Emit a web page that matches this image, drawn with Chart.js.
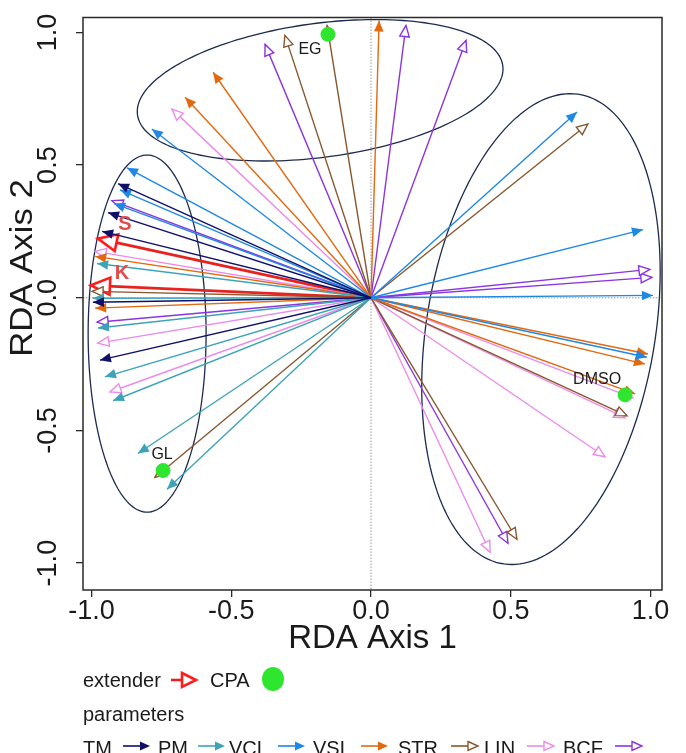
<!DOCTYPE html>
<html>
<head>
<meta charset="utf-8">
<script src="https://cdn.jsdelivr.net/npm/chart.js@4.4.1/dist/chart.umd.min.js"></script>
<style>
  html, body { margin: 0; padding: 0; background: #fff; }
  #wrap { position: relative; width: 686px; height: 753px; overflow: hidden; font-family: "Liberation Sans", Arial, Helvetica, sans-serif; }
  #chart { position: absolute; left: 0; top: 0; }
  .lg { position: absolute; font-size: 20px; line-height: 20px; color: #1a1a1a; white-space: nowrap; }
  .sym { position: absolute; }
</style>
</head>
<body>
<div id="wrap">
  <canvas id="chart" width="686" height="753"></canvas>
  <div id="legend"></div>
</div>
<script>
// --- Data (RDA scores) ---
const tickValues = [-1.0, -0.5, 0.0, 0.5, 1.0];

const paramNames = ['TM', 'PM', 'VCL', 'VSL', 'STR', 'LIN', 'BCF'];
const paramColors = ['#10106a', '#3da4b8', '#1f88e5', '#e2690f', '#87582f', '#ec8cea', '#8b35e0'];
const paramOpen = [false, false, false, false, true, true, true];

const tmTips = [[-0.905, 0.430], [-0.941, 0.321], [-0.962, 0.250], [-0.995, -0.017], [-0.970, -0.235]];
const pmTips = [[-0.980, 0.129], [-0.995, -0.002], [-0.977, -0.114], [-0.952, -0.298], [-0.923, -0.388], [-0.834, -0.587], [-0.730, -0.722]];
const vclTips = [[-0.873, 0.490], [-0.898, 0.407], [-0.919, 0.355], [-0.784, 0.636], [0.737, 0.700], [0.973, 0.257], [1.009, 0.009], [0.987, -0.224]];
const vslTips = [[-0.987, 0.156], [-0.987, -0.039], [-0.665, 0.756], [-0.565, 0.850], [0.029, 1.045], [0.991, -0.212], [0.980, -0.250], [0.945, -0.362]];
const strTips = [[-0.998, 0.024], [-0.773, -0.677], [-0.308, 0.989], [-0.157, 1.026], [0.776, 0.655], [0.916, -0.445], [0.522, -0.910]];
const linTips = [[-0.987, 0.175], [-0.977, -0.171], [-0.934, -0.355], [-0.712, 0.711], [0.937, -0.377], [0.909, -0.452], [0.837, -0.599], [0.426, -0.959]];
const bcfTips = [[-0.927, 0.366], [-0.980, -0.092], [-0.379, 0.955], [0.125, 1.026], [0.340, 0.970], [0.998, 0.107], [1.005, 0.077], [0.490, -0.925]];
const paramTips = [tmTips, pmTips, vclTips, vslTips, strTips, linTips, bcfTips];

const extenderNames = ['S', 'K'];
const extenderTips = [[-0.977, 0.223], [-1.002, 0.047]];

const cpaNames = ['EG', 'GL', 'DMSO'];
const cpaPoints = [[-0.154, 0.993], [-0.744, -0.651], [0.909, -0.366]];

// group ellipses: centre, semi-axes, rotation (deg), in axis units
const ellipseCenters = [[-0.182, 0.782], [-0.801, -0.135], [0.608, -0.118]];
const ellipseAxes = [[0.66, 0.252], [0.211, 0.673], [0.895, 0.41]];
const ellipseAngles = [8.2, 0, 81.5];

const FONT = "'Liberation Sans', Arial, Helvetica, sans-serif";
Chart.defaults.font.family = FONT;
Chart.defaults.color = '#1a1a1a';

// --- Datasets ---
const datasets = [];
paramTips.forEach((tips, i) => {
    tips.forEach(t => {
        datasets.push({
            label: paramNames[i],
            data: [{ x: 0, y: 0 }, { x: t[0], y: t[1] }],
            showLine: true,
            borderColor: paramColors[i],
            borderWidth: 1.4,
            pointRadius: 0,
            head: paramOpen[i] ? 'open' : 'filled',
            headLen: 11,
            headHalf: 4.8,
            headColor: paramColors[i],
            order: 1
        });
    });
});
extenderTips.forEach((t, i) => {
    datasets.push({
        label: extenderNames[i],
        data: [{ x: 0, y: 0 }, { x: t[0], y: t[1] }],
        showLine: true,
        borderColor: '#e8221e',
        borderWidth: 2.8,
        pointRadius: 0,
        head: 'open',
        headLen: 19,
        headHalf: 8.5,
        headColor: '#ff1c1c',
        extender: true,
        order: 1
    });
});
datasets.push({
    label: 'CPA',
    data: cpaPoints.map(p => ({ x: p[0], y: p[1] })),
    backgroundColor: '#2fe62f',
    borderColor: '#2fe62f',
    pointRadius: 7,
    order: 0,
    cpa: true
});

function drawHead(ctx, from, to, len, half, color, open) {
    const ang = Math.atan2(to.y - from.y, to.x - from.x);
    const bx = to.x - len * Math.cos(ang);
    const by = to.y - len * Math.sin(ang);
    const nx = -Math.sin(ang) * half;
    const ny = Math.cos(ang) * half;
    ctx.beginPath();
    ctx.moveTo(to.x, to.y);
    ctx.lineTo(bx + nx, by + ny);
    ctx.lineTo(bx - nx, by - ny);
    ctx.closePath();
    if (open) {
        ctx.fillStyle = '#fff';
        ctx.fill();
        ctx.lineWidth = half > 6 ? 2.6 : 1.4;
        ctx.strokeStyle = color;
        ctx.stroke();
    } else {
        ctx.fillStyle = color;
        ctx.fill();
    }
}

const rdaPlugin = {
    id: 'rda',
    beforeDatasetsDraw(chart) {
        const { ctx, chartArea: a, scales: { x, y } } = chart;
        ctx.save();
        // dotted zero lines
        ctx.strokeStyle = '#9a9a9a';
        ctx.lineWidth = 1;
        ctx.setLineDash([1.5, 1.5]);
        ctx.beginPath();
        ctx.moveTo(x.getPixelForValue(0), a.top);
        ctx.lineTo(x.getPixelForValue(0), a.bottom);
        ctx.moveTo(a.left, y.getPixelForValue(0));
        ctx.lineTo(a.right, y.getPixelForValue(0));
        ctx.stroke();
        ctx.setLineDash([]);
        // group ellipses
        ctx.strokeStyle = '#1d2b4f';
        ctx.lineWidth = 1.3;
        ellipseCenters.forEach((c, i) => {
            const r = ellipseAngles[i] * Math.PI / 180;
            const ax = ellipseAxes[i];
            ctx.beginPath();
            for (let k = 0; k <= 180; k++) {
                const t = k / 180 * 2 * Math.PI;
                const dx = ax[0] * Math.cos(t);
                const dy = ax[1] * Math.sin(t);
                const px = x.getPixelForValue(c[0] + dx * Math.cos(r) - dy * Math.sin(r));
                const py = y.getPixelForValue(c[1] + dx * Math.sin(r) + dy * Math.cos(r));
                if (k === 0) ctx.moveTo(px, py); else ctx.lineTo(px, py);
            }
            ctx.stroke();
        });
        ctx.restore();
    },
    afterDatasetDraw(chart, args) {
        const ds = chart.data.datasets[args.index];
        if (!ds.head) return;
        const pts = args.meta.data;
        const ctx = chart.ctx;
        ctx.save();
        drawHead(ctx, pts[0], pts[1], ds.headLen, ds.headHalf, ds.headColor, ds.head === 'open');
        ctx.restore();
    },
    afterDatasetsDraw(chart) {
        const { ctx, chartArea: a } = chart;
        ctx.save();
        // CPA labels
        ctx.fillStyle = '#1a1a1a';
        ctx.font = '16px ' + FONT;
        ctx.textAlign = 'center';
        ctx.textBaseline = 'middle';
        const cpaMeta = chart.getDatasetMeta(chart.data.datasets.length - 1);
        const cpaOffsets = [[-18, 15], [-1, -16], [-28, -15]];
        cpaMeta.data.forEach((p, i) => {
            ctx.fillText(cpaNames[i], p.x + cpaOffsets[i][0], p.y + cpaOffsets[i][1]);
        });
        // extender labels
        ctx.fillStyle = '#e04c4c';
        ctx.font = 'bold 20px ' + FONT;
        const extOffsets = [[27, -14], [31, -12]];
        let n = 0;
        chart.data.datasets.forEach((ds, i) => {
            if (!ds.extender) return;
            const tip = chart.getDatasetMeta(i).data[1];
            ctx.fillText(ds.label, tip.x + extOffsets[n][0], tip.y + extOffsets[n][1]);
            n++;
        });
        // plot box
        ctx.strokeStyle = '#2a2a2a';
        ctx.lineWidth = 1.5;
        ctx.strokeRect(a.left, a.top, a.right - a.left, a.bottom - a.top);
        // y axis title (sits a little above the plot centre in the original)
        ctx.fillStyle = '#1a1a1a';
        ctx.font = '31px ' + FONT;
        ctx.translate(23, 268);
        ctx.rotate(-Math.PI / 2);
        ctx.scale(1.12, 1);
        ctx.fillText('RDA Axis 2', 0, 0);
        ctx.restore();
    }
};

const axisFont = { size: 27, family: FONT, lineHeight: 1 };

new Chart(document.getElementById('chart'), {
    type: 'scatter',
    data: { datasets: datasets },
    options: {
        responsive: false,
        animation: false,
        events: [],
        layout: { padding: { left: 0, right: 24, top: 15, bottom: 93 } },
        plugins: { legend: { display: false }, tooltip: { enabled: false } },
        scales: {
            x: {
                type: 'linear',
                min: -1.0304,
                max: 1.0411,
                afterBuildTicks: s => { s.ticks = tickValues.map(v => ({ value: v })); },
                afterFit: s => { s.height = 70; },
                ticks: { font: axisFont, padding: 1, autoSkip: false, maxRotation: 0, color: '#1a1a1a', callback: v => v.toFixed(1) },
                grid: { drawOnChartArea: false, drawTicks: true, tickLength: 7, color: '#2a2a2a', lineWidth: 1.3 },
                border: { display: false },
                title: { display: true, text: 'RDA Axis 1', font: { size: 33, family: FONT, lineHeight: 1.2 }, padding: { top: 0, bottom: 1 }, color: '#1a1a1a' }
            },
            y: {
                type: 'linear',
                min: -1.1013,
                max: 1.0563,
                afterBuildTicks: s => { s.ticks = tickValues.map(v => ({ value: v })); },
                afterFit: s => { s.width = 83; },
                ticks: { font: axisFont, padding: 4, autoSkip: false, minRotation: 90, maxRotation: 90, crossAlign: 'center', color: '#1a1a1a', callback: v => v.toFixed(1) },
                grid: { drawOnChartArea: false, drawTicks: true, tickLength: 7, color: '#2a2a2a', lineWidth: 1.3 },
                border: { display: false }
            }
        }
    },
    plugins: [rdaPlugin]
});

// --- Legend (below the plot) ---
const legend = document.getElementById('legend');

function addText(text, left, top) {
    const el = document.createElement('div');
    el.className = 'lg';
    el.textContent = text;
    el.style.left = left + 'px';
    el.style.top = top + 'px';
    legend.appendChild(el);
}

function addSvg(inner, left, top, w, h) {
    const ns = 'http://www.w3.org/2000/svg';
    const svg = document.createElementNS(ns, 'svg');
    svg.setAttribute('class', 'sym');
    svg.setAttribute('width', w);
    svg.setAttribute('height', h);
    svg.style.left = left + 'px';
    svg.style.top = top + 'px';
    svg.innerHTML = inner;
    legend.appendChild(svg);
}

function arrowSymbol(color, open) {
    const head = open
        ? `<polygon points="17,3.5 27,8 17,12.5" fill="#fff" stroke="${color}" stroke-width="1.4"/>`
        : `<polygon points="17,3.5 27,8 17,12.5" fill="${color}"/>`;
    return `<line x1="0" y1="8" x2="${open ? 17 : 20}" y2="8" stroke="${color}" stroke-width="1.6"/>` + head;
}

addText('extender', 83, 670);
addSvg('<line x1="0" y1="11" x2="11" y2="11" stroke="#e8221e" stroke-width="2.6"/>' +
       '<polygon points="11,4 25,11 11,18" fill="#fff" stroke="#ff1c1c" stroke-width="2.6"/>', 171, 669, 30, 22);
addText('CPA', 210, 670);
addSvg('<ellipse cx="12" cy="12" rx="11" ry="12" fill="#2fe62f"/>', 261, 667, 24, 25);

addText('parameters', 83, 704);

const textLefts = [83, 158, 229, 313, 398, 484, 563];
const arrowLefts = [123, 198, 278, 361, 451, 527, 615];
paramNames.forEach((name, i) => {
    addText(name, textLefts[i], 738);
    addSvg(arrowSymbol(paramColors[i], paramOpen[i]), arrowLefts[i], 738, 30, 16);
});
</script>
</body>
</html>
